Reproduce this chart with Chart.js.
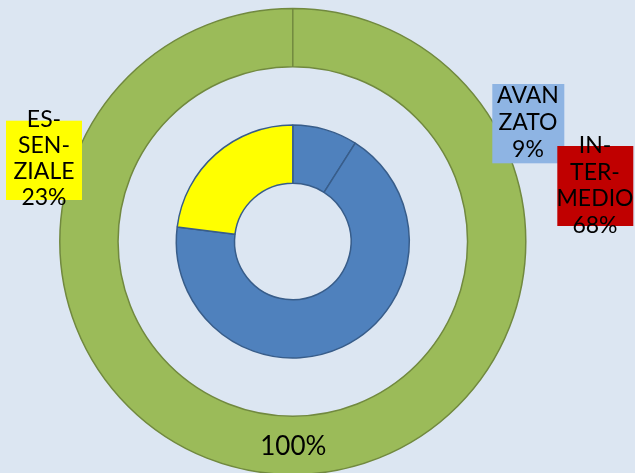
<!DOCTYPE html>
<html>
<head>
<meta charset="utf-8">
<script src="https://cdn.jsdelivr.net/npm/chart.js@4"></script>
<style>
  html, body { margin: 0; padding: 0; background: #dce6f2; }
  #wrap { width: 635px; height: 473px; position: relative; }
</style>
</head>
<body>
<div id="wrap"><canvas id="c" width="635" height="473"></canvas></div>
<script>
// ---- data ----
const outerLabels = ["TOTALE"];
const outerValues = [100];
const innerLabels = ["AVANZATO", "INTERMEDIO", "ESSENZIALE"];
const innerValues = [9, 68, 23];
const innerLabelLines = [["AVAN", "ZATO"], ["IN-", "TER-", "MEDIO"], ["ES-", "SEN-", "ZIALE"]];

// ---- styles / layout (not data) ----
const innerColors = ["#4f81bd", "#4f81bd", "#ffff00"];
const labelBoxColors = ["#8eb4e3", "#c00000", "#ffff00"];
// label boxes relative to chart centre: box (x,y,w,h) and text centre / first line / line height
const labelLayout = [
  { box: [199.5, -157.5, 72, 79.3], tx: 235.2, ty0: -146.5, lh: 26.7 },
  { box: [264.5, -95.5, 76, 80],   tx: 302.2, ty0: -97, lh: 26.8 },
  { box: [-286.8, -120.8, 76, 79.3], tx: -248.8, ty0: -122.5, lh: 26 }
];
const FONT = "Lato, 'Open Sans', sans-serif";

const bgPlugin = {
  id: 'bg',
  beforeDraw(chart) {
    const ctx = chart.ctx;
    ctx.save();
    ctx.fillStyle = '#dce6f2';
    ctx.fillRect(0, 0, chart.width, chart.height);
    ctx.restore();
  }
};

const labelPlugin = {
  id: 'labels',
  afterDatasetsDraw(chart) {
    const ctx = chart.ctx;
    const outerArc = chart.getDatasetMeta(0).data[0];
    const cx = outerArc.x, cy = outerArc.y;
    const total = innerValues.reduce((a, b) => a + b, 0);
    ctx.save();
    ctx.textAlign = 'center';
    ctx.textBaseline = 'alphabetic';
    innerValues.forEach((v, i) => {
      const L = labelLayout[i];
      ctx.fillStyle = labelBoxColors[i];
      ctx.fillRect(cx + L.box[0], cy + L.box[1], L.box[2], L.box[3]);
      ctx.fillStyle = '#000';
      ctx.font = '23px ' + FONT;
      const lines = innerLabelLines[i].concat([Math.round(v / total * 100) + '%']);
      lines.forEach((t, k) => {
        ctx.fillText(t, cx + L.tx, cy + L.ty0 + k * L.lh + 8.2);
      });
    });
    // outer label
    const ov = outerValues[0];
    ctx.font = '26px ' + FONT;
    ctx.fillText(Math.round(ov / outerValues.reduce((a, b) => a + b, 0) * 100) + '%', cx + 0.5, cy + 203.5 + 9.5);
    ctx.restore();
  }
};

new Chart(document.getElementById('c'), {
  type: 'doughnut',
  data: {
    labels: innerLabels,
    datasets: [
      {
        label: outerLabels[0],
        data: outerValues,
        backgroundColor: ['#9bbb59'],
        borderColor: '#71893f',
        borderWidth: 1.5
      },
      {
        label: 'spacer',
        data: [1],
        backgroundColor: ['rgba(0,0,0,0)'],
        borderWidth: 0
      },
      {
        label: 'LIVELLI',
        data: innerValues,
        backgroundColor: innerColors,
        borderColor: '#385d8a',
        borderWidth: 1.5
      }
    ]
  },
  options: {
    responsive: false,
    animation: false,
    events: [],
    radius: 233,
    cutout: '25%',
    layout: { padding: { left: 0, right: 49.4, top: 10, bottom: 0 } },
    plugins: {
      legend: { display: false },
      tooltip: { enabled: false }
    }
  },
  plugins: [bgPlugin, labelPlugin]
});
</script>
</body>
</html>
